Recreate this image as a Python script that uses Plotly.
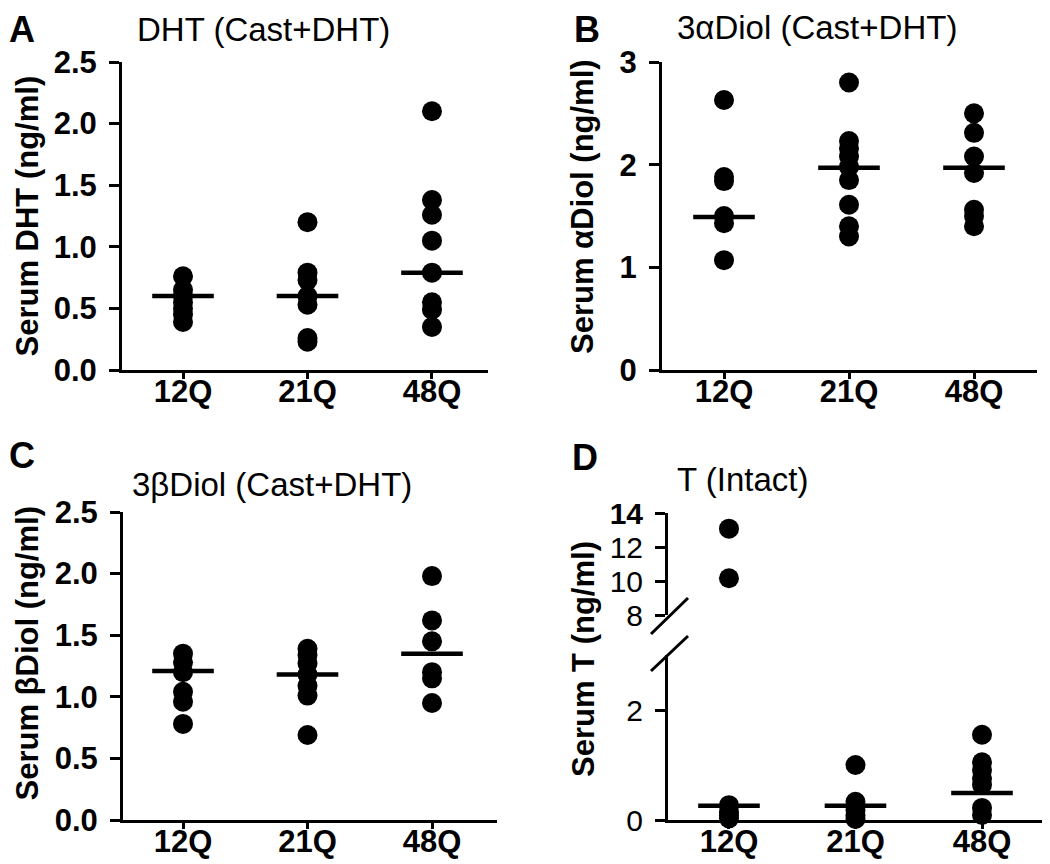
import plotly.graph_objects as go

# The page body adds an 8px margin, so the figure is sized to fit the window.
OFF = 8
W, H = 1050 - OFF, 864 - OFF

categories = ["12Q", "21Q", "48Q"]

# Panel A: Serum DHT (Cast+DHT)
dht_12q = [0.76, 0.65, 0.60, 0.55, 0.50, 0.45, 0.39]
dht_21q = [1.20, 0.79, 0.73, 0.60, 0.53, 0.26, 0.23]
dht_48q = [2.10, 1.38, 1.26, 1.05, 0.79, 0.55, 0.49, 0.35]
dht_center = [0.60, 0.60, 0.79]

# Panel B: Serum 3alpha-Diol (Cast+DHT)
adiol_12q = [2.63, 1.88, 1.84, 1.50, 1.43, 1.07]
adiol_21q = [2.80, 2.23, 2.16, 2.08, 1.98, 1.85, 1.61, 1.40, 1.30]
adiol_48q = [2.50, 2.31, 2.08, 1.92, 1.56, 1.50, 1.40]
adiol_center = [1.49, 1.97, 1.97]

# Panel C: Serum 3beta-Diol (Cast+DHT)
bdiol_12q = [1.35, 1.28, 1.20, 1.04, 0.96, 0.78]
bdiol_21q = [1.39, 1.34, 1.27, 1.18, 1.09, 1.01, 0.69]
bdiol_48q = [1.98, 1.62, 1.45, 1.20, 1.15, 0.95]
bdiol_center = [1.21, 1.18, 1.35]

# Panel D: Serum T (Intact)
t_12q = [13.08, 10.16, 0.27, 0.15, 0.08, 0.03]
t_21q = [1.00, 0.33, 0.18, 0.08, 0.02]
t_48q = [1.55, 1.05, 0.91, 0.76, 0.64, 0.22, 0.09]
t_center = [0.26, 0.26, 0.49]
t_break = 8  # values above this go on the upper (broken) segment

FONT = "Liberation Sans, Arial, sans-serif"


def px(x):
    return (x - OFF) / W


def py(y):
    return 1 - (y - OFF) / H


def xdom(a, b):
    return [px(a), px(b)]


def ydom(top, bottom):
    return [py(bottom), py(top)]


fig = go.Figure()


def add_group(vals_by_cat, centers, xa, ya, ya_upper=None, brk=None):
    for cat, vals in zip(categories, vals_by_cat):
        low = [v for v in vals if brk is None or v <= brk]
        high = [v for v in vals if brk is not None and v > brk]
        fig.add_trace(go.Scatter(
            x=[cat] * len(low), y=low, mode="markers",
            marker=dict(symbol="circle", size=20, color="black"),
            xaxis=xa, yaxis=ya, showlegend=False, hoverinfo="y", cliponaxis=False))
        if high:
            fig.add_trace(go.Scatter(
                x=[cat] * len(high), y=high, mode="markers",
                marker=dict(symbol="circle", size=20, color="black"),
                xaxis=xa, yaxis=ya_upper, showlegend=False, hoverinfo="y",
                cliponaxis=False))
    fig.add_trace(go.Scatter(
        x=categories, y=centers, mode="markers",
        marker=dict(symbol="line-ew", size=44, color="black",
                    line=dict(width=4.5, color="black")),
        xaxis=xa, yaxis=ya, showlegend=False, hoverinfo="y", cliponaxis=False))


add_group([dht_12q, dht_21q, dht_48q], dht_center, "x", "y")
add_group([adiol_12q, adiol_21q, adiol_48q], adiol_center, "x2", "y2")
add_group([bdiol_12q, bdiol_21q, bdiol_48q], bdiol_center, "x3", "y3")
add_group([t_12q, t_21q, t_48q], t_center, "x4", "y4", ya_upper="y5", brk=t_break)

tickfont_b = dict(family=FONT, size=31, color="black", weight="bold")
tickfont_n = dict(family=FONT, size=30, color="black")

xcommon = dict(type="category", categoryorder="array", categoryarray=categories,
               showline=True, linewidth=3, linecolor="black", ticks="outside",
               ticklen=6, tickwidth=3, tickcolor="black", showgrid=False,
               zeroline=False, tickfont=tickfont_b, fixedrange=True,
               automargin=False, ticklabelstandoff=-14)
ycommon = dict(showline=True, linewidth=3, linecolor="black", ticks="outside",
               ticklen=10, tickwidth=3, tickcolor="black", showgrid=False,
               zeroline=False, tickfont=tickfont_b, ticklabelstandoff=6,
               fixedrange=True, automargin=False)

fig.update_layout(
    width=W, height=H, autosize=False,
    margin=dict(l=0, r=0, t=0, b=0, pad=0, autoexpand=False),
    paper_bgcolor="white", plot_bgcolor="white",
    font=dict(family=FONT, color="black"),
    xaxis=dict(xcommon, domain=xdom(122, 488), range=[-0.49, 2.45], anchor="y"),
    yaxis=dict(ycommon, domain=ydom(62, 370), range=[0, 2.5],
               tickvals=[0, 0.5, 1.0, 1.5, 2.0, 2.5], tickformat=".1f", anchor="x"),
    xaxis2=dict(xcommon, domain=xdom(662, 1037), range=[-0.496, 2.504], anchor="y2"),
    yaxis2=dict(ycommon, domain=ydom(62, 370), range=[0, 3],
                tickvals=[0, 1, 2, 3], anchor="x2"),
    xaxis3=dict(xcommon, domain=xdom(123, 497), range=[-0.482, 2.522], anchor="y3"),
    yaxis3=dict(ycommon, domain=ydom(512, 820), range=[0, 2.5],
                tickvals=[0, 0.5, 1.0, 1.5, 2.0, 2.5], tickformat=".1f", anchor="x3"),
    xaxis4=dict(xcommon, domain=xdom(668, 1045), range=[-0.482, 2.498], anchor="y4"),
    yaxis4=dict(ycommon, domain=ydom(655, 820), range=[0, 3],
                tickvals=[0, 2], tickfont=tickfont_n, anchor="x4"),
    yaxis5=dict(ycommon, domain=ydom(513, 615), range=[8, 14],
                tickvals=[8, 10, 12, 14], ticktext=["8", "10", "12", "<b>14</b>"],
                tickfont=tickfont_n, anchor="x4"),
)

annotations = []
# panel letters (top-aligned / left-aligned so they stay inside the page)
for letter, x, y, xa, ya in [("A", 8, 8, "left", "top"), ("B", 587, 8, "center", "top"),
                             ("C", 8, 456, "left", "middle"),
                             ("D", 585, 457, "center", "middle")]:
    annotations.append(dict(text=f"<b>{letter}</b>", x=px(x), y=py(y),
                            xref="paper", yref="paper", showarrow=False,
                            xanchor=xa, yanchor=ya, borderpad=0,
                            font=dict(family=FONT, size=36, color="black")))
# panel titles
for text, x, y in [("DHT (Cast+DHT)", 135, 30), ("3αDiol (Cast+DHT)", 675, 28),
                   ("3βDiol (Cast+DHT)", 130, 484), ("T (Intact)", 675, 480)]:
    annotations.append(dict(text=text, x=px(x), y=py(y), xref="paper", yref="paper",
                            showarrow=False, xanchor="left", yanchor="middle",
                            font=dict(family=FONT, size=33, color="black")))
# y-axis titles
for text, x, y, xa in [("Serum DHT (ng/ml)", 8, 216, "left"),
                       ("Serum αDiol (ng/ml)", 583, 207, "center"),
                       ("Serum βDiol (ng/ml)", 8, 653, "left"),
                       ("Serum T (ng/ml)", 583, 659, "center")]:
    annotations.append(dict(text=f"<b>{text}</b>", x=px(x), y=py(y),
                            xref="paper", yref="paper", showarrow=False,
                            textangle=-90, xanchor=xa, yanchor="middle", borderpad=0,
                            font=dict(family=FONT, size=31, color="black")))
fig.update_layout(annotations=annotations)

# axis-break slashes on panel D
for (x0, y0, x1, y1) in [(651, 634, 688, 598), (651, 671, 688, 636)]:
    fig.add_shape(type="line", xref="paper", yref="paper",
                  x0=px(x0), y0=py(y0), x1=px(x1), y1=py(y1),
                  line=dict(color="black", width=3))

fig.write_html("out.html")
